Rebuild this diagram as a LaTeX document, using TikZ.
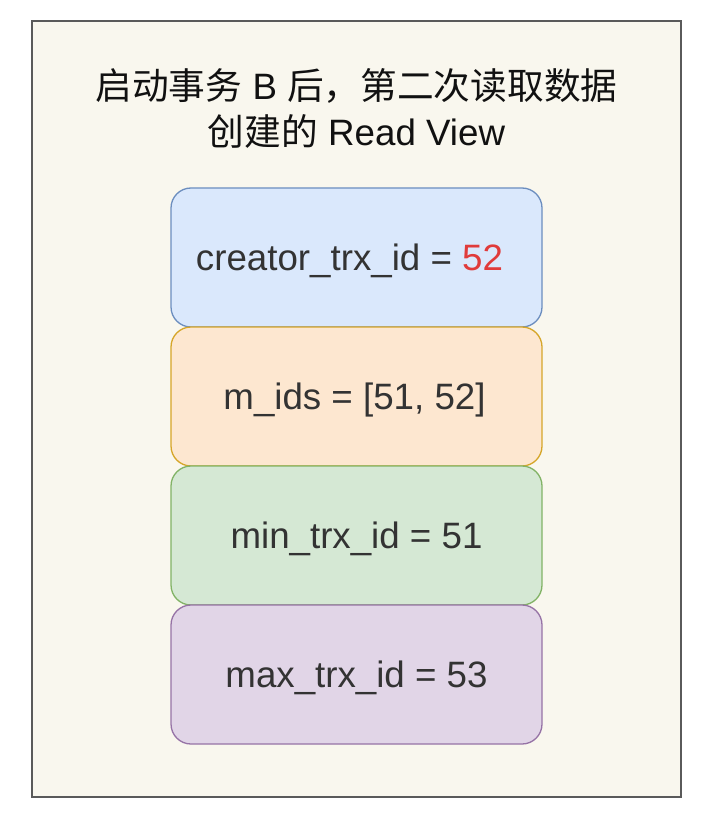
\documentclass[tikz,border=0pt]{standalone}
\usepackage{fontspec}
\setmainfont{Liberation Sans}
\newfontfamily\cjk{Noto Sans CJK SC}
\usetikzlibrary{positioning}
\definecolor{txtgray}{HTML}{333333}
\definecolor{titleblack}{HTML}{111111}
\definecolor{paper}{HTML}{F9F7EE}
\definecolor{frame}{HTML}{5A5A5A}
\definecolor{hotred}{HTML}{E03B3B}
\definecolor{bluefill}{HTML}{DAE8FC}
\definecolor{blueline}{HTML}{6C8EBF}
\definecolor{orangefill}{HTML}{FDE7D0}
\definecolor{orangeline}{HTML}{D6A629}
\definecolor{greenfill}{HTML}{D5E8D4}
\definecolor{greenline}{HTML}{82B366}
\definecolor{purplefill}{HTML}{E1D5E7}
\definecolor{purpleline}{HTML}{9673A6}
\begin{document}
\begin{tikzpicture}[x=1pt,y=-1pt,
   field/.style={rounded corners=20pt, minimum width=371pt, minimum height=139pt, outer sep=0pt, line width=1.3pt, text=txtgray, text height=31pt, text depth=6pt, font=\fontsize{36.7}{44}\selectfont},
   heading/.style={align=center, text=titleblack, font=\fontsize{36.7}{46}\selectfont}]
   \useasboundingbox (0,0) rectangle (706,818);
   \draw[frame, fill=paper, line width=2pt] (32,21) rectangle (681,797);
   \node[heading] (title) at (356.5,108) {{\cjk 启动事务} B {\cjk 后，第二次读取数据}\\{\cjk 创建的} Read View};
   \node[field, fill=bluefill, draw=blueline] (creator) at (356.5,257.5) {creator\_trx\_id = \textcolor{hotred}{52}\kern14pt};
   \node[field, fill=orangefill, draw=orangeline, below=0pt of creator] (mids) {m\_ids = [51, 52]\kern4pt};
   \node[field, fill=greenfill, draw=greenline, below=0pt of mids] (minid) {min\_trx\_id = 51};
   \node[field, fill=purplefill, draw=purpleline, below=0pt of minid] (maxid) {max\_trx\_id = 53};
\end{tikzpicture}
\end{document}
